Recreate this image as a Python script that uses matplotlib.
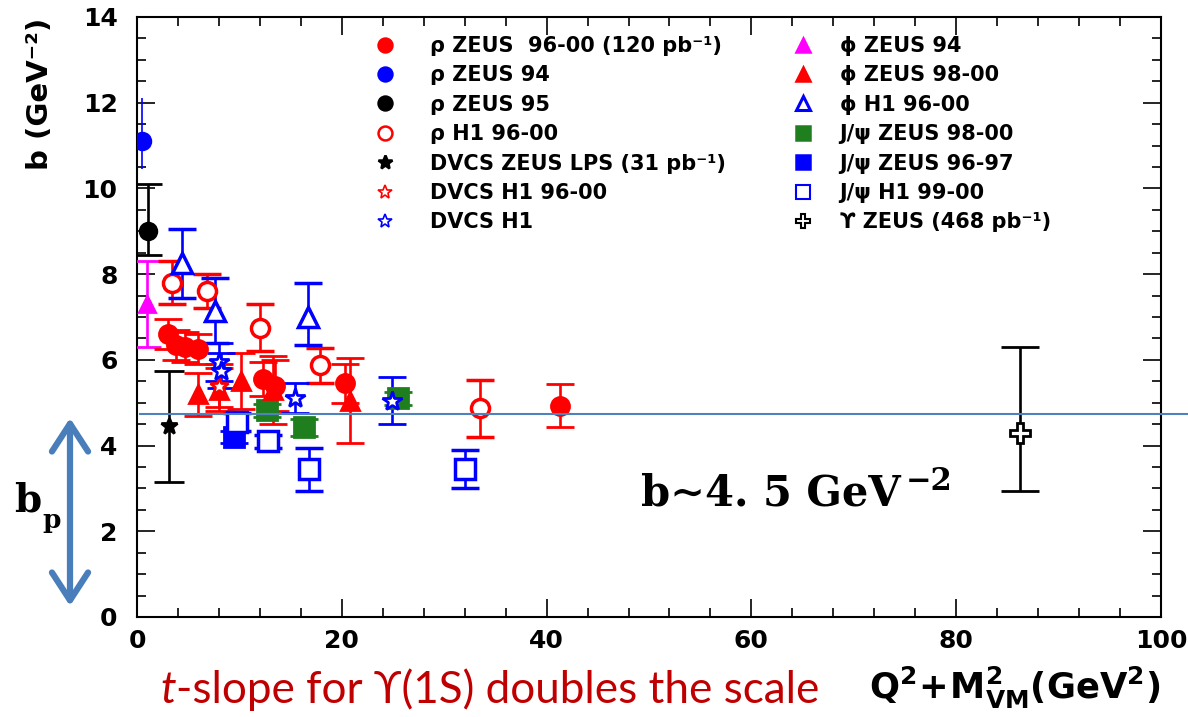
import matplotlib
matplotlib.use('Agg')
import matplotlib.pyplot as plt
from matplotlib.lines import Line2D
from matplotlib.ticker import MultipleLocator

plt.rcParams['mathtext.fontset'] = 'dejavusans'
plt.rcParams['font.family'] = ['DejaVu Sans']

# ---------------- data ----------------
rho_zeus9600_x = [3.0, 3.8, 4.7, 6.0, 12.3, 13.5, 20.3, 41.3]
rho_zeus9600_y = [6.6, 6.35, 6.3, 6.25, 5.55, 5.4, 5.45, 4.93]
rho_zeus9600_e = [0.35, 0.35, 0.35, 0.35, 0.4, 0.6, 0.45, 0.5]

rho_zeus94_x = [0.5]
rho_zeus94_y = [11.1]
rho_zeus94_lo = [0.65]
rho_zeus94_hi = [1.0]

rho_zeus95_x = [1.1]
rho_zeus95_y = [9.0]
rho_zeus95_lo = [0.55]
rho_zeus95_hi = [1.1]

rho_h1_x = [3.4, 6.8, 12.0, 17.9, 33.5]
rho_h1_y = [7.8, 7.6, 6.75, 5.87, 4.87]
rho_h1_e = [0.5, 0.4, 0.55, 0.4, 0.67]

dvcs_zeus_x = [3.1]
dvcs_zeus_y = [4.45]
dvcs_zeus_e = [1.3]

dvcs_h1_9600_x = [8.0]
dvcs_h1_9600_y = [5.4]
dvcs_h1_9600_e = [0.5]

dvcs_h1_x = [8.0, 8.2, 15.4, 24.9]
dvcs_h1_y = [5.95, 5.75, 5.12, 5.05]
dvcs_h1_e = [0.45, 0.4, 0.35, 0.55]

phi_zeus94_x = [1.0]
phi_zeus94_y = [7.3]
phi_zeus94_e = [1.0]

phi_zeus9800_x = [6.0, 8.0, 10.2, 13.3, 20.8]
phi_zeus9800_y = [5.2, 5.3, 5.5, 5.3, 5.05]
phi_zeus9800_e = [0.5, 0.5, 0.65, 0.8, 1.0]

phi_h1_x = [4.4, 7.6, 16.7]
phi_h1_y = [8.25, 7.15, 7.0]
phi_h1_lo = [0.8, 0.75, 0.65]
phi_h1_hi = [0.8, 0.75, 0.8]

jpsi_zeus9800_x = [12.7, 16.3, 25.5]
jpsi_zeus9800_y = [4.82, 4.43, 5.1]
jpsi_zeus9800_e = [0.15, 0.2, 0.15]

jpsi_zeus9697_x = [9.5]
jpsi_zeus9697_y = [4.2]
jpsi_zeus9697_e = [0.15]

jpsi_h1_x = [9.8, 12.8, 16.8, 32.0]
jpsi_h1_y = [4.55, 4.1, 3.45, 3.45]
jpsi_h1_e = [0.2, 0.15, 0.5, 0.45]

ups_x = [86.2]
ups_y = [4.3]
ups_lo = [1.35]
ups_hi = [2.0]

b_ref = 4.73

legend1_labels = ["ρ ZEUS  96-00 (120 pb⁻¹)", "ρ ZEUS 94", "ρ ZEUS 95", "ρ H1 96-00",
                  "DVCS ZEUS LPS (31 pb⁻¹)", "DVCS H1 96-00", "DVCS H1"]
legend2_labels = ["ϕ ZEUS 94", "ϕ ZEUS 98-00", "ϕ H1 96-00", "J/ψ ZEUS 98-00",
                  "J/ψ ZEUS 96-97", "J/ψ H1 99-00", "ϒ ZEUS (468 pb⁻¹)"]

RED = '#ff0000'
BLUE = '#0000ff'
MAG = '#ff00ff'
GREEN = '#1f7f1f'
BLK = '#000000'

fig = plt.figure(figsize=(11.88, 7.17), dpi=100)
ax = fig.add_axes([137/1188, 1-617/717, 1024/1188, 600/717])
ax.set_xlim(0, 100)
ax.set_ylim(0, 14)

def eb(x, y, lo, hi, color, marker, ms, mfc, lw=1.9, cap=10, mew=2.0):
    ax.errorbar(x, y, yerr=[lo, hi], fmt=marker, color=color, ms=ms, mfc=mfc, mec=color,
                mew=mew, elinewidth=lw, capsize=cap, capthick=lw, zorder=3)

eb(dvcs_zeus_x, dvcs_zeus_y, dvcs_zeus_e, dvcs_zeus_e, BLK, '*', 12, BLK, cap=11)
eb(rho_zeus95_x, rho_zeus95_y, rho_zeus95_lo, rho_zeus95_hi, BLK, 'o', 12, BLK)
eb(rho_zeus94_x, rho_zeus94_y, rho_zeus94_lo, rho_zeus94_hi, BLUE, 'o', 12, BLUE, lw=1.2, cap=0)
eb(phi_zeus94_x, phi_zeus94_y, phi_zeus94_e, phi_zeus94_e, MAG, '^', 12, MAG)
eb(jpsi_zeus9800_x, jpsi_zeus9800_y, jpsi_zeus9800_e, jpsi_zeus9800_e, GREEN, 's', 15, GREEN)
eb(jpsi_zeus9697_x, jpsi_zeus9697_y, jpsi_zeus9697_e, jpsi_zeus9697_e, BLUE, 's', 14, BLUE)
eb(jpsi_h1_x, jpsi_h1_y, jpsi_h1_e, jpsi_h1_e, BLUE, 's', 14, 'white', mew=2.5)
eb(phi_zeus9800_x, phi_zeus9800_y, phi_zeus9800_e, phi_zeus9800_e, RED, '^', 13, RED)
eb(rho_zeus9600_x, rho_zeus9600_y, rho_zeus9600_e, rho_zeus9600_e, RED, 'o', 13, RED)
eb(rho_h1_x, rho_h1_y, rho_h1_e, rho_h1_e, RED, 'o', 13, 'white', mew=2.5)
eb(dvcs_h1_9600_x, dvcs_h1_9600_y, dvcs_h1_9600_e, dvcs_h1_9600_e, RED, '*', 14, 'white')
eb(phi_h1_x, phi_h1_y, phi_h1_lo, phi_h1_hi, BLUE, '^', 15, 'white', mew=2.5)
eb(dvcs_h1_x, dvcs_h1_y, dvcs_h1_e, dvcs_h1_e, BLUE, '*', 15, 'white', mew=2.0)
eb(ups_x, ups_y, ups_lo, ups_hi, BLK, 'P', 15, 'white', mew=2.0, cap=14)

# reference line
ax.axhline(b_ref, xmin=0.003, xmax=(1188-137)/1024, color='#4f81bd', lw=1.5,
           clip_on=False, zorder=4)

# axes styling
ax.xaxis.set_major_locator(MultipleLocator(20))
ax.xaxis.set_minor_locator(MultipleLocator(4))
ax.yaxis.set_major_locator(MultipleLocator(2))
ax.yaxis.set_minor_locator(MultipleLocator(0.5))
ax.tick_params(which='both', direction='in', top=True, right=True, width=1.2)
ax.tick_params(which='major', length=13)
ax.tick_params(which='minor', length=6.5)
ax.tick_params(axis='y', pad=14)
ax.tick_params(axis='x', pad=9)
for sp in ax.spines.values():
    sp.set_linewidth(1.5)
for lab in ax.get_xticklabels() + ax.get_yticklabels():
    lab.set_fontsize(18)
    lab.set_fontweight('bold')

# legends
def proxy(color, marker, mfc, ms=10, mew=1.8):
    return Line2D([], [], ls='none', marker=marker, color=color, mfc=mfc, mec=color, ms=ms, mew=mew)

h1 = [proxy(RED, 'o', RED), proxy(BLUE, 'o', BLUE), proxy(BLK, 'o', BLK),
      proxy(RED, 'o', 'white'), proxy(BLK, '*', BLK), proxy(RED, '*', 'white', mew=1.2),
      proxy(BLUE, '*', 'white', mew=1.2)]
h2 = [proxy(MAG, '^', MAG), proxy(RED, '^', RED), proxy(BLUE, '^', 'white', mew=2.2),
      proxy(GREEN, 's', GREEN), proxy(BLUE, 's', BLUE), proxy(BLUE, 's', 'white', mew=1.5),
      proxy(BLK, 'P', 'white', mew=1.5)]

leg_kw = dict(frameon=False, borderpad=0, borderaxespad=0, handlelength=1.2,
              labelspacing=0.45, prop={'family': 'DejaVu Sans', 'weight': 'bold', 'size': 15})
leg1 = ax.legend(h1, legend1_labels, loc='upper left',
                 bbox_to_anchor=((372-137)/1024, (617-36)/600), handletextpad=1.56, **leg_kw)
ax.add_artist(leg1)
ax.legend(h2, legend2_labels, loc='upper left',
          bbox_to_anchor=((790-137)/1024, (617-36)/600), handletextpad=1.18, **leg_kw)

# axis titles
fig.text(40/1188, 1-18/717, "b (GeV⁻²)", rotation=90, ha='center', va='top',
         fontsize=21, fontweight='bold')
fig.text(1160/1188, 1-688/717, r"$\mathbf{Q^2\!+\!M^2_{VM}(GeV^2)}$", ha='right',
         va='center', fontsize=25.5)

# annotations
t1 = fig.text(641/1188, 1-505/717, "b∼4. 5 GeV", family='DejaVu Serif',
              fontweight='bold', fontsize=30, ha='left', va='baseline')
ax.annotate("−2", xy=(1.0, 1.0), xycoords=t1, xytext=(4, 4), textcoords='offset points',
            ha='left', va='top', family='DejaVu Serif', fontweight='bold', fontsize=22)

t2 = fig.text(14/1188, 1-512/717, "b", family='DejaVu Serif', fontweight='bold',
              fontsize=28, ha='left', va='baseline')
ax.annotate("p", xy=(1.0, 0.0), xycoords=t2, xytext=(1, -6), textcoords='offset points',
            ha='left', va='baseline', family='DejaVu Serif', fontweight='bold', fontsize=19)

ax.annotate('', xy=(70, 717-418), xytext=(70, 717-606), xycoords='figure pixels',
            textcoords='figure pixels', annotation_clip=False,
            arrowprops=dict(arrowstyle='<->, head_length=1.0, head_width=0.65',
                            lw=4.5, color='#4a7ebb', mutation_scale=20,
                            shrinkA=0, shrinkB=0))

t3 = fig.text(160/1188, 1-703/717, "t", family=['Lato', 'DejaVu Sans'], style='italic',
              fontsize=31.7, color='#c00000', ha='left', va='baseline')
ax.annotate("-slope for ϒ(1S) doubles the scale", xy=(1.0, 0.0), xycoords=t3,
            xytext=(0, 0), textcoords='offset points', ha='left', va='bottom',
            family=['Lato', 'DejaVu Sans'], fontsize=31.7, color='#c00000')

fig.savefig('out.png', dpi=100)
